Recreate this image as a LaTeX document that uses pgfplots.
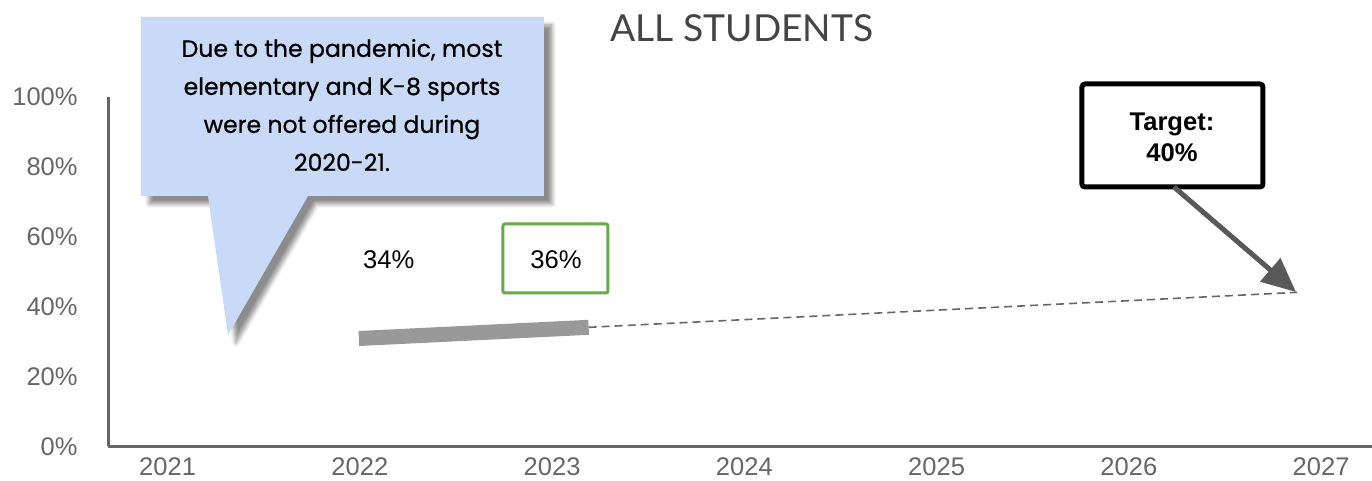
\documentclass[border=0pt]{standalone}
\usepackage{fontspec}
\setmainfont{Liberation Sans}
\newfontfamily\calloutfont[FakeBold=0.7]{Poppins}
\newfontfamily\titlefont{Lato}
\usepackage{pgfplots}
\pgfplotsset{compat=1.18}
\usetikzlibrary{arrows.meta,shadows.blur}
\definecolor{axisgray}{HTML}{666666}
\definecolor{linegray}{HTML}{999999}
\definecolor{arrowgray}{HTML}{595959}
\definecolor{titlegray}{HTML}{444444}
\definecolor{calloutblue}{HTML}{C9DAF8}
\definecolor{boxgreen}{HTML}{6AA84F}
\begin{document}
\begin{tikzpicture}
\useasboundingbox (0,0) rectangle (686bp,240.5bp);
\begin{axis}[
  at={(54bp,17.25bp)}, anchor=south west,
  scale only axis, width=632bp, height=174.75bp,
  xmin=2020.69, xmax=2027.265, ymin=0, ymax=100,
  axis lines=left,
  axis line style={-, draw=axisgray, line width=1.5bp},
  xtick={2021,2022,2023,2024,2025,2026,2027},
  xticklabels={2021,2022,2023,2024,2025,2026,2027},
  ytick={0,20,40,60,80,100},
  yticklabel={\pgfmathprintnumber{\tick}\%},
  /pgf/number format/assume math mode=true,
  major tick length=0pt,
  tick label style={font=\fontsize{12.75bp}{15bp}\selectfont, text=axisgray, inner sep=0pt},
  xticklabel style={anchor=north, yshift=-5.5bp},
  yticklabel style={anchor=east, xshift=-15bp},
  clip=false,
]
\addplot[color=linegray, line width=7.5bp, line cap=butt] coordinates {(2021.995,30.9) (2023.19,34.1)};
\addplot[color=axisgray, line width=0.8bp, dash pattern=on 4bp off 2.5bp] coordinates {(2023.19,34.1) (2026.875,44.1)};
\node[font=\fontsize{12.8bp}{15bp}\selectfont] at (axis cs:2022.15,53.4) {34\%};
\node[font=\fontsize{12.8bp}{15bp}\selectfont] at (axis cs:2023.02,53.4) {36\%};
\end{axis}
\begin{scope}[shift={(0bp,240.5bp)}, x=0.5bp, y=-0.5bp]
  % title
  \node[font=\titlefont\fontsize{18.6bp}{21bp}\selectfont, text=titlegray] at (742,28) {ALL STUDENTS};
  % callout
  \path[fill=calloutblue, blur shadow={shadow xshift=4bp, shadow yshift=-4bp, shadow blur steps=6, shadow opacity=45}]
    (141,17) -- (544,17) -- (544,196) -- (308,196) -- (228,335) -- (208,196) -- (141,196) -- cycle;
  \node[font=\calloutfont\fontsize{11.8bp}{19bp}\selectfont, align=center] at (342,105)
    {Due to the pandemic, most\\elementary and K-8 sports\\were not offered during\\2020-21.};
  % green box
  \draw[boxgreen, line width=1.5bp, rounded corners=1bp] (503,224) rectangle (608,293);
  % target box
  \draw[black, line width=2.5bp, rounded corners=1.5bp, fill=white] (1082,84) rectangle (1263,187);
  \node[font=\bfseries\fontsize{12.8bp}{15.5bp}\selectfont, align=center] at (1172,137.5) {Target:\\40\%};
  \draw[arrowgray, line width=2.5bp, -{Triangle[length=17bp,width=15bp]}] (1174,187) -- (1296,292);
\end{scope}
\end{tikzpicture}
\end{document}
